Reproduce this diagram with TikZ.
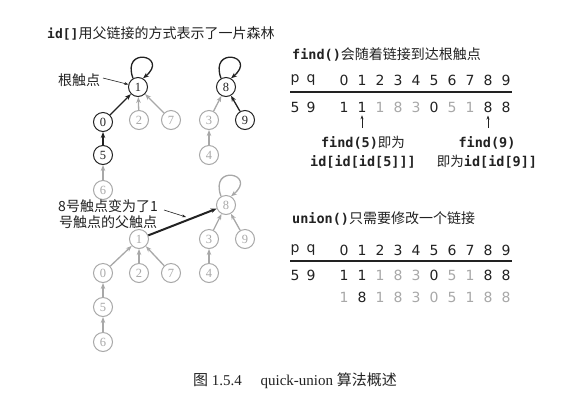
\documentclass[tikz,border=0pt]{standalone}
\usepackage{fontspec}
\setmainfont{Liberation Serif}
\setsansfont{DejaVu Sans}
\setmonofont{DejaVu Sans Mono}
\newfontfamily\cjk{Noto Sans CJK SC}
\usetikzlibrary{arrows.meta}
\definecolor{ink}{HTML}{222222}
\definecolor{faint}{HTML}{A8A8A8}
\begin{document}
\begin{tikzpicture}[x=1pt,y=-1pt,
  nd/.style={circle,draw=ink,text=ink,line width=1pt,minimum size=19pt,inner sep=0pt,font=\fontsize{12.5}{12.5}\selectfont},
  gn/.style={nd,draw=faint,text=faint},
  ar/.style={-{Stealth[length=6pt,width=4.5pt]},line width=1.3pt,draw=ink},
  gar/.style={ar,draw=faint},
  sar/.style={-{Stealth[length=4pt,width=3pt]},line width=0.6pt,draw=ink},
  tx/.style={font=\cjk\fontsize{14}{17}\selectfont,text=ink,inner sep=0pt,align=center},
  dg/.style={font=\sffamily\fontsize{14}{14}\selectfont,text=ink,inner sep=0pt},
  gdg/.style={dg,text=faint},
  mono/.style={font=\fontsize{13.5}{16}\selectfont,text=ink,inner sep=0pt,align=center}]
\useasboundingbox (0,0) rectangle (588,400);
\fill[white] (0,0) rectangle (588,400);

% ---------- title
\node[tx,anchor=west] (title) at (47,33) {{\ttfamily\bfseries\fontsize{13}{13}\selectfont id[]}用父链接的方式表示了一片森林};

% ---------- top forest
\node[nd] (n1) at (138,87) {1};
\node[nd] (n8) at (226,87) {8};
\node[nd] (n0) at (103,122) {0};
\node[gn] (n2) at (139,120) {2};
\node[gn] (n7) at (171,120) {7};
\node[gn] (n3) at (209,120) {3};
\node[nd] (n9) at (245,120) {9};
\node[nd] (n5) at (103,155) {5};
\node[gn] (n4) at (209,155) {4};
\node[gn] (n6) at (103,190) {6};

\draw[ar] (n1.120) .. controls +(110:35pt) and +(40:35pt) .. (n1.60);
\draw[ar] (n8.120) .. controls +(110:35pt) and +(40:35pt) .. (n8.60);
\draw[ar] (n0) -- (n1);
\draw[gar] (n2) -- (n1);
\draw[gar] (n7) -- (n1);
\draw[gar] (n3) -- (n8);
\draw[ar] (n9) -- (n8);
\draw[ar] (n5) -- (n0);
\draw[gar] (n4) -- (n3);
\draw[gar] (n6) -- (n5);

\node[tx] (root) at (79,80) {根触点};
\coordinate (rootA) at (103,78);
\draw[sar] (rootA) -- (n1.165);

% ---------- bottom forest
\node[gn] (b8) at (226,205) {8};
\node[gn] (b1) at (139,239) {1};
\node[gn] (b3) at (209,239) {3};
\node[gn] (b9) at (245,239) {9};
\node[gn] (b0) at (103,273) {0};
\node[gn] (b2) at (139,273) {2};
\node[gn] (b7) at (171,273) {7};
\node[gn] (b4) at (209,273) {4};
\node[gn] (b5) at (103,307) {5};
\node[gn] (b6) at (103,342) {6};

\draw[gar] (b8.120) .. controls +(110:35pt) and +(40:35pt) .. (b8.60);
\draw[ar,line width=2pt] (b1) -- (b8);
\draw[gar] (b3) -- (b8);
\draw[gar] (b9) -- (b8);
\draw[gar] (b0) -- (b1);
\draw[gar] (b2) -- (b1);
\draw[gar] (b7) -- (b1);
\draw[gar] (b4) -- (b3);
\draw[gar] (b5) -- (b0);
\draw[gar] (b6) -- (b5);

\node[tx,font=\cjk\fontsize{14}{16}\selectfont] (chg) at (108,214) {8号触点变为了1\\号触点的父触点};
\coordinate (chgA) at (164,210);
\coordinate (chgB) at (186,217);
\draw[sar] (chgA) -- (chgB);

% ---------- find() table
\node[tx,anchor=west] (findt) at (292,54) {{\ttfamily\bfseries\fontsize{13.5}{13.5}\selectfont find()}会随着链接到达根触点};
\node[dg] (hp) at (295,80) {p};
\node[dg] (hq) at (311,80) {q};
\foreach \i in {0,...,9} \node[dg] (h\i) at (344+18*\i,80) {\i};
\draw[ink,line width=1.1pt] (290,92) coordinate (la) -- (512,92) coordinate (lb);
\node[dg] (vp) at (295,107) {5};
\node[dg] (vq) at (311,107) {9};
\foreach \i/\v/\c in {0/1/dg,1/1/dg,2/1/gdg,3/8/gdg,4/3/gdg,5/0/dg,6/5/gdg,7/1/gdg,8/8/dg,9/8/dg}
  \node[\c] (v\i) at (344+18*\i,107) {\v};

\coordinate (fa) at (362,128);
\coordinate (fb) at (488,128);
\draw[sar] (fa) -- ([yshift=-3pt]v1.south);
\draw[sar] (fb) -- ([yshift=-3pt]v8.south);

\node[mono] (f5) at (363,143) {{\ttfamily\bfseries find(5)}{\cjk 即为}};
\node[mono] (f5b) at (363,162) {{\ttfamily\bfseries id[id[id[5]]]}};
\node[mono] (f9) at (487,143) {{\ttfamily\bfseries find(9)}};
\node[mono] (f9b) at (487,162) {{\cjk 即为}{\ttfamily\bfseries id[id[9]]}};

% ---------- union() table
\node[tx,anchor=west] (uniont) at (292,218) {{\ttfamily\bfseries\fontsize{13.5}{13.5}\selectfont union()}只需要修改一个链接};
\node[dg] (up) at (295,250) {p};
\node[dg] (uq) at (311,250) {q};
\foreach \i in {0,...,9} \node[dg] (uh\i) at (344+18*\i,250) {\i};
\draw[ink,line width=1.1pt] (290,261) coordinate (ula) -- (512,261) coordinate (ulb);
\node[dg] (uvp) at (295,275) {5};
\node[dg] (uvq) at (311,275) {9};
\foreach \i/\v/\c in {0/1/dg,1/1/dg,2/1/gdg,3/8/gdg,4/3/gdg,5/0/dg,6/5/gdg,7/1/gdg,8/8/dg,9/8/dg}
  \node[\c] (uv\i) at (344+18*\i,275) {\v};
\foreach \i/\v/\c in {0/1/gdg,1/8/dg,2/1/gdg,3/8/gdg,4/3/gdg,5/0/gdg,6/5/gdg,7/1/gdg,8/8/gdg,9/8/gdg}
  \node[\c] (uw\i) at (344+18*\i,297) {\v};

% ---------- caption
\node[text=ink,inner sep=0pt,font=\fontsize{15}{15}\selectfont] (cap) at (295,381) {{\cjk 图} 1.5.4\quad\ quick-union {\cjk 算法概述}};
\end{tikzpicture}
\end{document}
